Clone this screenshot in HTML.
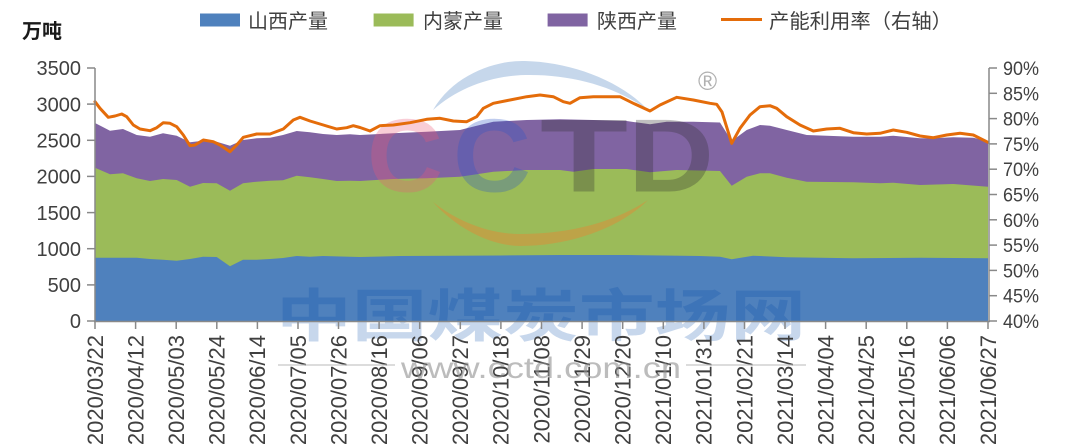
<!DOCTYPE html>
<html>
<head>
<meta charset="utf-8">
<style>
html,body{margin:0;padding:0;background:#fff;}
svg{display:block;}
text{font-family:"Liberation Sans","Noto Sans CJK SC",sans-serif;}
</style>
</head>
<body>
<svg width="1080" height="447" viewBox="0 0 1080 447" xmlns="http://www.w3.org/2000/svg">
<rect width="1080" height="447" fill="#fff"/>

<!-- Legend -->
<text x="22" y="38" font-size="20" font-weight="bold" fill="#1a1a1a">万吨</text>
<rect x="200" y="13.5" width="40" height="13" fill="#4f81bd"/>
<text x="248" y="28" font-size="20" fill="#404040">山西产量</text>
<rect x="373.6" y="13.5" width="40" height="13" fill="#9bbb59"/>
<text x="423" y="28" font-size="20" fill="#404040">内蒙产量</text>
<rect x="547.6" y="13.5" width="40" height="13" fill="#8064a2"/>
<text x="597" y="28" font-size="20" fill="#404040">陕西产量</text>
<line x1="721" y1="19.5" x2="762" y2="19.5" stroke="#e46c0a" stroke-width="3"/>
<text x="769" y="28" font-size="20" fill="#404040" textLength="183" lengthAdjust="spacingAndGlyphs">产能利用率（右轴）</text>

<!-- Purple (total) area -->
<polygon fill="#8064a2" points="95,123 110,130.7 123,129 136.7,135 150,136.7 163,133.3 176.7,135.7 190,142.3 203,140.7 216.7,141.7 230,145.7 243,140 256.7,138.3 270,137.7 283,135 296.7,131 310,132.3 323,134 336.7,135 350,134.3 360,135 393,133.3 426.7,131.7 460,130 476.7,125.7 493.3,121.7 526.7,120 560,119.3 593.3,120 626.7,121 650,124.3 666.7,121.7 693.3,121.7 720,122.5 731.7,141 746.7,130 760,125 770,125.7 786.7,130 806.7,135 826.7,135.7 853.3,136.7 880,136.7 893.3,135.7 920,138.3 933.3,138.3 953.3,137.3 973.3,137.7 988,141 988,321 95,321"/>
<!-- Green area -->
<polygon fill="#9bbb59" points="95,167.7 110,174.3 123,173.3 136.7,178.3 150,181 163,179 176.7,180 190,186.7 203,183 216.7,183.3 230,190.7 243,183.3 256.7,181.7 270,180.7 283,180.3 296.7,175.7 310,177.3 323,179 336.7,181 350,180.7 360,181 393,179 426.7,178.3 460,176.7 476.7,174.3 493.3,171.7 526.7,170 560,170 573.3,171.7 593.3,169 626.7,169 650,172.3 676.7,170 720,171 731.7,185.7 746.7,176.7 760,173.3 770,173.3 786.7,177.7 806.7,181.7 853.3,182.3 880,183.3 893.3,182.7 920,185 953.3,184 988,186.7 988,321 95,321"/>
<!-- Blue area -->
<polygon fill="#4f81bd" points="95,257.7 136.7,257.7 150,259 163,259.7 176.7,260.7 190,259 203,256.7 216.7,257 230,266.3 243,259.7 256.7,259.7 270,259 283,258 296.7,256 310,256.7 323,256 350,256.7 360,257 400,256 500,255.5 560,255 626.7,255 700,256 720,256.7 731.7,259.3 753,255.7 786.7,257.3 853,258.3 920,257.7 988,258.3 988,321 95,321"/>

<!-- Watermark: arcs -->
<path d="M433,110 C455,72 500,60 525,61 C570,62 620,80 648,110 C615,86 570,74 525,75 C490,76 458,88 433,110 Z" fill="#b8cde6" opacity="0.8"/>
<path d="M433,202 C460,232 495,246 520,246 C570,246 620,228 648,200 C615,222 570,234 520,234 C490,234 458,222 433,202 Z" fill="#d9903a" opacity="0.55"/>
<!-- Watermark: CCTD -->
<text x="367" y="191.5" font-size="104" font-weight="bold" fill="#ea5a78" fill-opacity="0.3" textLength="76" lengthAdjust="spacingAndGlyphs">C</text>
<text x="453" y="191.5" font-size="104" font-weight="bold" fill="#2a56c8" fill-opacity="0.3" textLength="78" lengthAdjust="spacingAndGlyphs">C</text>
<text x="540" y="191.5" font-size="104" font-weight="bold" fill="#303030" fill-opacity="0.3" textLength="88" lengthAdjust="spacingAndGlyphs">T</text>
<text x="628" y="191.5" font-size="104" font-weight="bold" fill="#303030" fill-opacity="0.3" textLength="86" lengthAdjust="spacingAndGlyphs">D</text>
<text x="698" y="90" font-size="26" fill="#b0b0b0">®</text>

<!-- Watermark: 中国煤炭市场网 -->
<text x="276" y="336" font-size="57" font-weight="bold" fill="#004ba7" fill-opacity="0.22" textLength="530" lengthAdjust="spacingAndGlyphs" style='font-family:"Noto Sans CJK SC",sans-serif'>中国煤炭市场网</text>

<!-- Orange line -->
<polyline fill="none" stroke="#e46c0a" stroke-width="3" stroke-linejoin="round" stroke-linecap="round" points="95,101.7 100,108.3 108.3,117.3 115,116 121.7,114 126.7,116.7 133.3,125 140,129 150,130.7 156.7,127.7 163.3,122.7 170,123.3 176.7,126.7 183.3,135 190,145.7 195,145 203.3,140 213.3,141.7 220,145 230,151.7 236.7,145 243.3,137.3 256.7,134 270,134 283.3,129 293.3,120 300,117.3 310,121 323.3,125 336.7,129 346.7,127.7 353.3,125.7 360,127.5 370,131 380,125.7 393.3,125 410,122.7 426.7,119.3 440,118.3 453.3,121 466.7,121.7 476.7,116.7 483.3,108.3 493.3,103.3 510,100 526.7,96.7 540,95 553.3,96.7 563.3,101.7 570,103.3 580,97.7 593.3,96.7 620,96.7 633.3,103.3 650,111 660,105 676.7,97.3 693.3,100 710,103.3 716.7,104.3 722,112 731.7,143.3 740,128.3 750,115 760,106.7 770,105.7 776.7,108.3 786.7,116.7 800,125 813.3,131 826.7,129 840,128.3 853.3,132.7 866.7,134 880,133.3 893.3,130 906.7,132.3 920,136 933.3,137.7 946.7,135 960,133.3 973.3,135 988,142.3"/>

<!-- Axes -->
<g stroke="#898989" stroke-width="1.5" fill="none">
<line x1="95" y1="68" x2="95" y2="321.5"/>
<line x1="989" y1="68" x2="989" y2="321.5"/>
<line x1="94" y1="321.5" x2="990" y2="321.5"/>
<line x1="87" y1="68" x2="95" y2="68"/>
<line x1="87" y1="104.1" x2="95" y2="104.1"/>
<line x1="87" y1="140.3" x2="95" y2="140.3"/>
<line x1="87" y1="176.4" x2="95" y2="176.4"/>
<line x1="87" y1="212.6" x2="95" y2="212.6"/>
<line x1="87" y1="248.7" x2="95" y2="248.7"/>
<line x1="87" y1="284.9" x2="95" y2="284.9"/>
<line x1="87" y1="321" x2="95" y2="321"/>
<line x1="989" y1="68" x2="997" y2="68"/>
<line x1="989" y1="93.3" x2="997" y2="93.3"/>
<line x1="989" y1="118.6" x2="997" y2="118.6"/>
<line x1="989" y1="143.9" x2="997" y2="143.9"/>
<line x1="989" y1="169.2" x2="997" y2="169.2"/>
<line x1="989" y1="194.5" x2="997" y2="194.5"/>
<line x1="989" y1="219.8" x2="997" y2="219.8"/>
<line x1="989" y1="245.1" x2="997" y2="245.1"/>
<line x1="989" y1="270.4" x2="997" y2="270.4"/>
<line x1="989" y1="295.7" x2="997" y2="295.7"/>
<line x1="989" y1="321" x2="997" y2="321"/>
<line x1="95" y1="321" x2="95" y2="329"/>
<line x1="135.6" y1="321" x2="135.6" y2="329"/>
<line x1="176.2" y1="321" x2="176.2" y2="329"/>
<line x1="216.8" y1="321" x2="216.8" y2="329"/>
<line x1="257.4" y1="321" x2="257.4" y2="329"/>
<line x1="298" y1="321" x2="298" y2="329"/>
<line x1="338.5" y1="321" x2="338.5" y2="329"/>
<line x1="379.1" y1="321" x2="379.1" y2="329"/>
<line x1="419.7" y1="321" x2="419.7" y2="329"/>
<line x1="460.3" y1="321" x2="460.3" y2="329"/>
<line x1="500.9" y1="321" x2="500.9" y2="329"/>
<line x1="541.5" y1="321" x2="541.5" y2="329"/>
<line x1="582.1" y1="321" x2="582.1" y2="329"/>
<line x1="622.7" y1="321" x2="622.7" y2="329"/>
<line x1="663.3" y1="321" x2="663.3" y2="329"/>
<line x1="703.9" y1="321" x2="703.9" y2="329"/>
<line x1="744.5" y1="321" x2="744.5" y2="329"/>
<line x1="785" y1="321" x2="785" y2="329"/>
<line x1="825.6" y1="321" x2="825.6" y2="329"/>
<line x1="866.2" y1="321" x2="866.2" y2="329"/>
<line x1="906.8" y1="321" x2="906.8" y2="329"/>
<line x1="947.4" y1="321" x2="947.4" y2="329"/>
<line x1="988" y1="321" x2="988" y2="329"/>
</g>

<!-- Left labels -->
<g font-size="20" fill="#404040" text-anchor="end">
<text x="81" y="75.2">3500</text>
<text x="81" y="111.3">3000</text>
<text x="81" y="147.5">2500</text>
<text x="81" y="183.6">2000</text>
<text x="81" y="219.8">1500</text>
<text x="81" y="255.9">1000</text>
<text x="81" y="292.1">500</text>
<text x="81" y="328.2">0</text>
</g>
<!-- Right labels -->
<g font-size="19" fill="#404040">
<text x="1003" y="75" textLength="36" lengthAdjust="spacingAndGlyphs">90%</text>
<text x="1003" y="100.3" textLength="36" lengthAdjust="spacingAndGlyphs">85%</text>
<text x="1003" y="125.6" textLength="36" lengthAdjust="spacingAndGlyphs">80%</text>
<text x="1003" y="150.9" textLength="36" lengthAdjust="spacingAndGlyphs">75%</text>
<text x="1003" y="176.2" textLength="36" lengthAdjust="spacingAndGlyphs">70%</text>
<text x="1003" y="201.5" textLength="36" lengthAdjust="spacingAndGlyphs">65%</text>
<text x="1003" y="226.8" textLength="36" lengthAdjust="spacingAndGlyphs">60%</text>
<text x="1003" y="252.1" textLength="36" lengthAdjust="spacingAndGlyphs">55%</text>
<text x="1003" y="277.4" textLength="36" lengthAdjust="spacingAndGlyphs">50%</text>
<text x="1003" y="302.7" textLength="36" lengthAdjust="spacingAndGlyphs">45%</text>
<text x="1003" y="328" textLength="36" lengthAdjust="spacingAndGlyphs">40%</text>
</g>

<!-- X labels -->
<g font-size="22" fill="#404040" text-anchor="end">
<text transform="translate(102.8,335) rotate(-90)">2020/03/22</text>
<text transform="translate(143.4,335) rotate(-90)">2020/04/12</text>
<text transform="translate(184,335) rotate(-90)">2020/05/03</text>
<text transform="translate(224.6,335) rotate(-90)">2020/05/24</text>
<text transform="translate(265.2,335) rotate(-90)">2020/06/14</text>
<text transform="translate(305.8,335) rotate(-90)">2020/07/05</text>
<text transform="translate(346.3,335) rotate(-90)">2020/07/26</text>
<text transform="translate(386.9,335) rotate(-90)">2020/08/16</text>
<text transform="translate(427.5,335) rotate(-90)">2020/09/06</text>
<text transform="translate(468.1,335) rotate(-90)">2020/09/27</text>
<text transform="translate(508.7,335) rotate(-90)">2020/10/18</text>
<text transform="translate(549.3,335) rotate(-90)">2020/11/08</text>
<text transform="translate(589.9,335) rotate(-90)">2020/11/29</text>
<text transform="translate(630.5,335) rotate(-90)">2020/12/20</text>
<text transform="translate(671.1,335) rotate(-90)">2021/01/10</text>
<text transform="translate(711.7,335) rotate(-90)">2021/01/31</text>
<text transform="translate(752.3,335) rotate(-90)">2021/02/21</text>
<text transform="translate(792.8,335) rotate(-90)">2021/03/14</text>
<text transform="translate(833.4,335) rotate(-90)">2021/04/04</text>
<text transform="translate(874,335) rotate(-90)">2021/04/25</text>
<text transform="translate(914.6,335) rotate(-90)">2021/05/16</text>
<text transform="translate(955.2,335) rotate(-90)">2021/06/06</text>
<text transform="translate(995.8,335) rotate(-90)">2021/06/27</text>
</g>

<!-- Watermark: www.cctd.com.cn -->
<line x1="278" y1="365" x2="395" y2="365" stroke="#bdbdbd" stroke-width="1.5" opacity="0.7"/>
<line x1="686" y1="365" x2="806" y2="365" stroke="#bdbdbd" stroke-width="1.5" opacity="0.7"/>
<text x="401" y="378" font-size="30" fill="#909090" fill-opacity="0.6" textLength="280" lengthAdjust="spacingAndGlyphs">www.cctd.com.cn</text>
</svg>
</body>
</html>
